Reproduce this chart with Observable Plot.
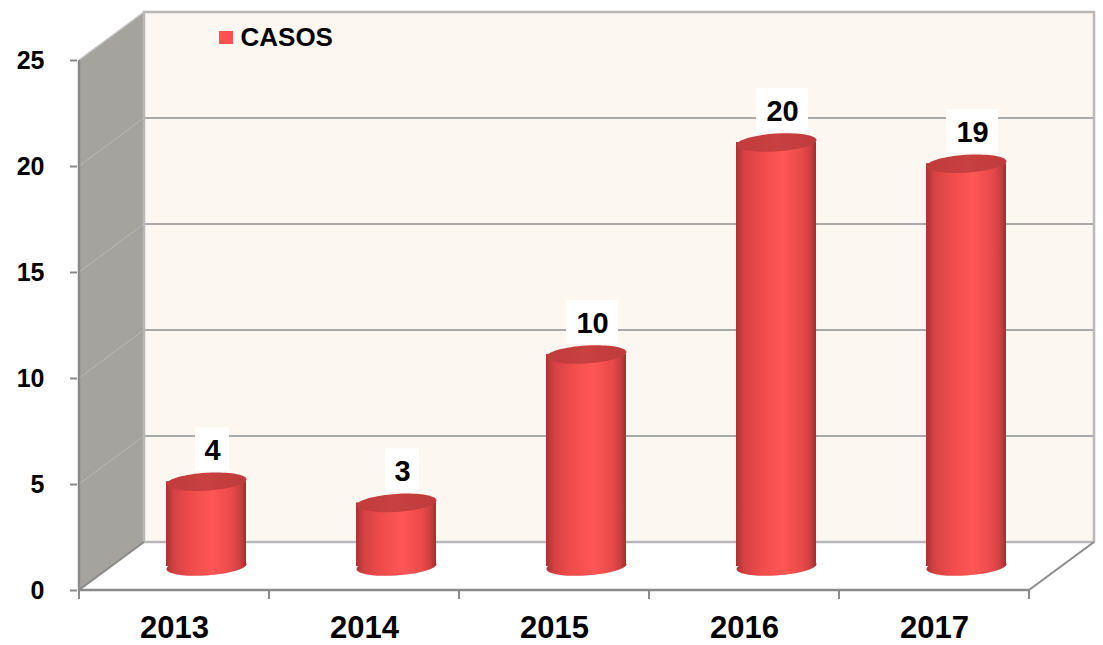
<!DOCTYPE html>
<html>
<head>
<meta charset="utf-8">
<script src="https://cdn.jsdelivr.net/npm/d3@7"></script>
<script src="https://cdn.jsdelivr.net/npm/@observablehq/plot@0.6"></script>
<style>
  body { margin: 0; background: #ffffff; }
  #chart svg { display: block; }
  #chart [aria-label^="y-axis"] text { font-size: 25px; font-weight: bold; fill: #000; }
  #chart [aria-label^="x-axis"] text { font-size: 31px; font-weight: bold; fill: #000; }
  #chart [aria-label^="y-axis"] path, #chart [aria-label^="y-axis"] line { stroke: #8a8a8a; stroke-width: 2px; }
  #chart [aria-label^="x-axis"] path, #chart [aria-label^="x-axis"] line { stroke: none; }
</style>
</head>
<body>
<svg width="0" height="0" style="position:absolute">
  <defs>
    <linearGradient id="cylBody" x1="0" x2="1" y1="0" y2="0">
      <stop offset="0" stop-color="#a93333"/>
      <stop offset="0.1" stop-color="#d44242"/>
      <stop offset="0.3" stop-color="#ee4b4b"/>
      <stop offset="0.58" stop-color="#ff5656"/>
      <stop offset="0.82" stop-color="#ea4a4a"/>
      <stop offset="0.93" stop-color="#cc3f3f"/>
      <stop offset="1" stop-color="#a22f2f"/>
    </linearGradient>
    <linearGradient id="cylTop" x1="0" x2="1" y1="0" y2="0">
      <stop offset="0" stop-color="#c23c3c"/>
      <stop offset="0.5" stop-color="#c84040"/>
      <stop offset="1" stop-color="#bf3b3b"/>
    </linearGradient>
  </defs>
</svg>
<div id="chart"></div>
<script>
// ---- data ----
const years = ["2013", "2014", "2015", "2016", "2017"];
const casos = [4, 3, 10, 20, 19];
const yTicks = [0, 5, 10, 15, 20, 25];
const seriesName = "CASOS";

const data = years.map((year, i) => ({year, casos: casos[i]}));

// ---- style constants ----
const DEPTH_X = 65, DEPTH_Y = -48;      // back wall offset
const CYL_DX = 32, CYL_DY = -24;        // cylinders sit mid-depth
const CYL_INSET = 55;                   // band inset -> cylinder width ~80
const LABEL_DX = 38, LABEL_DY = -55;
const NS = "http://www.w3.org/2000/svg";
const FONT = "'Liberation Sans', Arial, Helvetica, sans-serif";

function el(name, attrs) {
  const e = document.createElementNS(NS, name);
  for (const k in attrs) e.setAttribute(k, attrs[k]);
  return e;
}

// tilted ellipse symbol (cylinder caps)
function ellipseSymbol(a, b, s) {
  return {
    draw(ctx) {
      const k = 0.5522847498;
      const P = (x, y) => [x, y - s * x];
      ctx.moveTo(...P(a, 0));
      ctx.bezierCurveTo(...P(a, k * b), ...P(k * a, b), ...P(0, b));
      ctx.bezierCurveTo(...P(-k * a, b), ...P(-a, k * b), ...P(-a, 0));
      ctx.bezierCurveTo(...P(-a, -k * b), ...P(-k * a, -b), ...P(0, -b));
      ctx.bezierCurveTo(...P(k * a, -b), ...P(a, -k * b), ...P(a, 0));
      ctx.closePath();
    }
  };
}
const cap = ellipseSymbol(40, 9, 0.06);

// 3D box: side wall, back wall, floor, gridlines, axis lines
function box3d(index, scales, values, dimensions) {
  const x = scales.x, y = scales.y;
  const bw = x.bandwidth();
  const x0 = x(years[0]), x1 = x(years[years.length - 1]) + bw;
  const yb = y(yTicks[0]), yt = y(yTicks[yTicks.length - 1]);
  const g = el("g", {});
  const pts = (arr) => arr.map(p => p.join(",")).join(" ");
  // floor
  g.appendChild(el("polygon", {points: pts([[x0, yb], [x1, yb], [x1 + DEPTH_X, yb + DEPTH_Y], [x0 + DEPTH_X, yb + DEPTH_Y]]), fill: "#ffffff"}));
  // side wall
  g.appendChild(el("polygon", {points: pts([[x0, yb], [x0, yt], [x0 + DEPTH_X, yt + DEPTH_Y], [x0 + DEPTH_X, yb + DEPTH_Y]]), fill: "#a5a39e"}));
  // back wall
  g.appendChild(el("rect", {x: x0 + DEPTH_X, y: yt + DEPTH_Y, width: x1 - x0, height: yb - yt, fill: "#fdf7f1"}));
  // gridlines
  for (const v of yTicks.slice(1, -1)) {
    g.appendChild(el("line", {x1: x0 + DEPTH_X, x2: x1 + DEPTH_X, y1: y(v) + DEPTH_Y, y2: y(v) + DEPTH_Y, stroke: "#a9a9a9", "stroke-width": 2}));
    g.appendChild(el("line", {x1: x0, x2: x0 + DEPTH_X, y1: y(v), y2: y(v) + DEPTH_Y, stroke: "#b9b8b3", "stroke-width": 1}));
  }
  // back wall border
  g.appendChild(el("rect", {x: x0 + DEPTH_X, y: yt + DEPTH_Y, width: x1 - x0, height: yb - yt, fill: "none", stroke: "#b8b8b8", "stroke-width": 2.5}));
  // side wall top edge
  g.appendChild(el("line", {x1: x0, x2: x0 + DEPTH_X, y1: yt, y2: yt + DEPTH_Y, stroke: "#c4c4c4", "stroke-width": 1.5}));
  // floor edges
  const axisColor = "#8a8a8a";
  g.appendChild(el("line", {x1: x0, x2: x0 + DEPTH_X, y1: yb, y2: yb + DEPTH_Y, stroke: axisColor, "stroke-width": 2}));
  g.appendChild(el("line", {x1: x1, x2: x1 + DEPTH_X, y1: yb, y2: yb + DEPTH_Y, stroke: axisColor, "stroke-width": 2}));
  // axis lines
  g.appendChild(el("line", {x1: x0, x2: x1, y1: yb, y2: yb, stroke: axisColor, "stroke-width": 2.5}));
  g.appendChild(el("line", {x1: x0, x2: x0, y1: yb, y2: yt, stroke: axisColor, "stroke-width": 2.5}));
  // category boundary ticks
  const bounds = years.map(d => x(d)).concat([x1]);
  for (const bx of bounds) {
    g.appendChild(el("line", {x1: bx, x2: bx, y1: yb, y2: yb + 9, stroke: axisColor, "stroke-width": 2}));
  }
  // legend swatch
  g.appendChild(el("rect", {x: dimensions.marginLeft + 142, y: dimensions.marginTop - 29, width: 14, height: 13, fill: "#ff5050"}));
  return g;
}

// white label boxes
function labelBoxes(index, scales) {
  const x = scales.x, y = scales.y, bw = x.bandwidth();
  const g = el("g", {});
  for (const d of data) {
    const s = String(d.casos);
    const w = 16 + 18 * s.length, h = 44;
    const cx = x(d.year) + bw / 2 + LABEL_DX;
    const cy = y(d.casos) + LABEL_DY - 1;
    g.appendChild(el("rect", {x: cx - w / 2, y: cy - h / 2, width: w, height: h, fill: "#ffffff"}));
  }
  return g;
}

const chart = Plot.plot({
  width: 1103,
  height: 645,
  marginLeft: 77,
  marginRight: 73,
  marginTop: 60,
  marginBottom: 55,
  style: {fontFamily: FONT, background: "#ffffff", color: "#000"},
  x: {domain: years, padding: 0, tickSize: 0, tickPadding: 25, label: null},
  y: {domain: [0, 25], ticks: yTicks, tickSize: 7, tickPadding: 26, label: null},
  marks: [
    box3d,
    Plot.dot(data, {x: "year", y: () => 0, symbol: cap, fill: "url(#cylBody)", dx: CYL_DX, dy: CYL_DY}),
    Plot.barY(data, {x: "year", y: "casos", fill: "url(#cylBody)", insetLeft: CYL_INSET, insetRight: CYL_INSET, dx: CYL_DX, dy: CYL_DY}),
    Plot.dot(data, {x: "year", y: "casos", symbol: cap, fill: "url(#cylTop)", dx: CYL_DX, dy: CYL_DY}),
    labelBoxes,
    Plot.text(data, {x: "year", y: "casos", text: d => String(d.casos), dx: LABEL_DX, dy: LABEL_DY, fontSize: 29, fontWeight: "bold", fill: "#000"}),
    Plot.text([seriesName], {text: d => d, frameAnchor: "top-left", lineAnchor: "middle", dx: 163, dy: -23, textAnchor: "start", fontSize: 26, fontWeight: "bold", fill: "#000"})
  ]
});
document.getElementById("chart").appendChild(chart);
</script>
</body>
</html>
